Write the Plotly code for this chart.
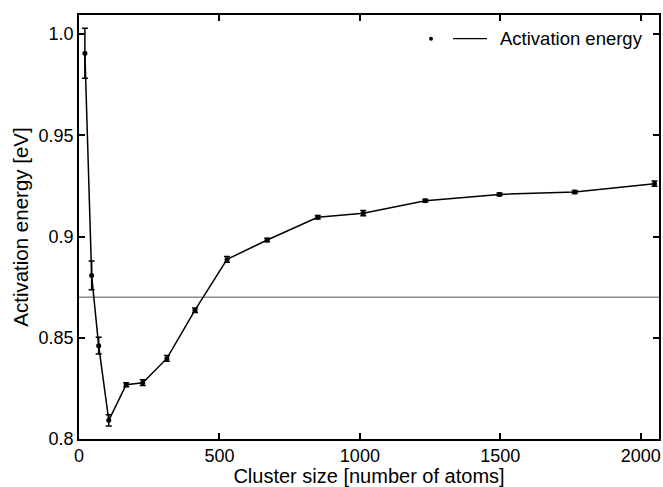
import plotly.graph_objects as go

cluster_size = [21, 45, 70, 106, 168, 227, 313, 413, 527, 670, 850, 1012, 1233, 1497, 1765, 2049]
activation_energy = [0.9905, 0.8808, 0.8461, 0.8092, 0.8268, 0.8278, 0.8398, 0.8636,
                     0.8887, 0.8983, 0.9095, 0.9115, 0.9177, 0.9208, 0.9220, 0.9261]
energy_error = [0.0123, 0.0071, 0.0041, 0.0028, 0.0010, 0.0014, 0.0014, 0.0011,
                0.0014, 0.0009, 0.0009, 0.0013, 0.0007, 0.0007, 0.0007, 0.0013]
reference_level = 0.870

x_ticks = [0, 500, 1000, 1500, 2000]
y_ticks = [0.8, 0.85, 0.9, 0.95, 1.0]
y_tick_labels = ["0.8", "0.85", "0.9", "0.95", "1.0"]
series_name = "Activation energy"

font_family = "Liberation Sans, Arial, Helvetica, sans-serif"

L, R, T, B = 79, 659, 15, 439
PW, PH = R - L, B - T

fig = go.Figure()
fig.add_trace(go.Scatter(
    x=cluster_size, y=activation_energy,
    mode="lines+markers",
    name=series_name,
    line=dict(color="black", width=1.5),
    marker=dict(color="black", size=5),
    error_y=dict(type="data", array=energy_error, visible=True,
                 color="black", thickness=1.5, width=3),
    showlegend=False,
    cliponaxis=False,
))

fig.add_shape(type="line", xref="paper", x0=0, x1=1, yref="y",
              y0=reference_level, y1=reference_level,
              line=dict(color="#8c8c8c", width=1.5), layer="below")

# legend drawn manually: dot, line, text
fig.add_shape(type="circle", xref="paper", yref="paper",
              x0=(429 - L) / PW, x1=(433 - L) / PW,
              y0=(B - 40.7) / PH, y1=(B - 36.7) / PH,
              fillcolor="black", line=dict(color="black", width=0))
fig.add_shape(type="line", xref="paper", yref="paper",
              x0=(453 - L) / PW, x1=(487 - L) / PW,
              y0=(B - 38.7) / PH, y1=(B - 38.7) / PH,
              line=dict(color="black", width=1.2))
fig.add_annotation(xref="paper", yref="paper",
                   x=(498 - L) / PW, y=(B - 38.5) / PH,
                   xanchor="left", yanchor="middle", showarrow=False,
                   text=series_name, font=dict(size=18.5, color="black", family=font_family))

axis_common = dict(
    showgrid=False, zeroline=False,
    showline=True, linecolor="black", linewidth=1.5, mirror="ticks",
    ticks="inside", ticklen=6, tickwidth=1.5, tickcolor="black",
    tickfont=dict(size=18, color="black", family=font_family),
)

fig.update_xaxes(range=[0, 2065], tickvals=x_ticks,
                 title=dict(text="Cluster size [number of atoms]", standoff=7,
                            font=dict(size=20, color="black", family=font_family)),
                 **axis_common)
fig.update_yaxes(range=[0.8, 1.0094], tickvals=y_ticks, ticktext=y_tick_labels,
                 title=dict(text="Activation energy [eV]", standoff=4,
                            font=dict(size=20.5, color="black", family=font_family)),
                 **axis_common)

fig.update_layout(
    width=663, height=487,
    margin=dict(l=L, r=663 - R, t=T, b=487 - B, autoexpand=False),
    plot_bgcolor="white", paper_bgcolor="white",
    font=dict(family=font_family, color="black"),
)

fig.write_html("out.html", config={"displayModeBar": False},
               post_script="document.body.style.margin='0';document.body.style.overflow='hidden';")
